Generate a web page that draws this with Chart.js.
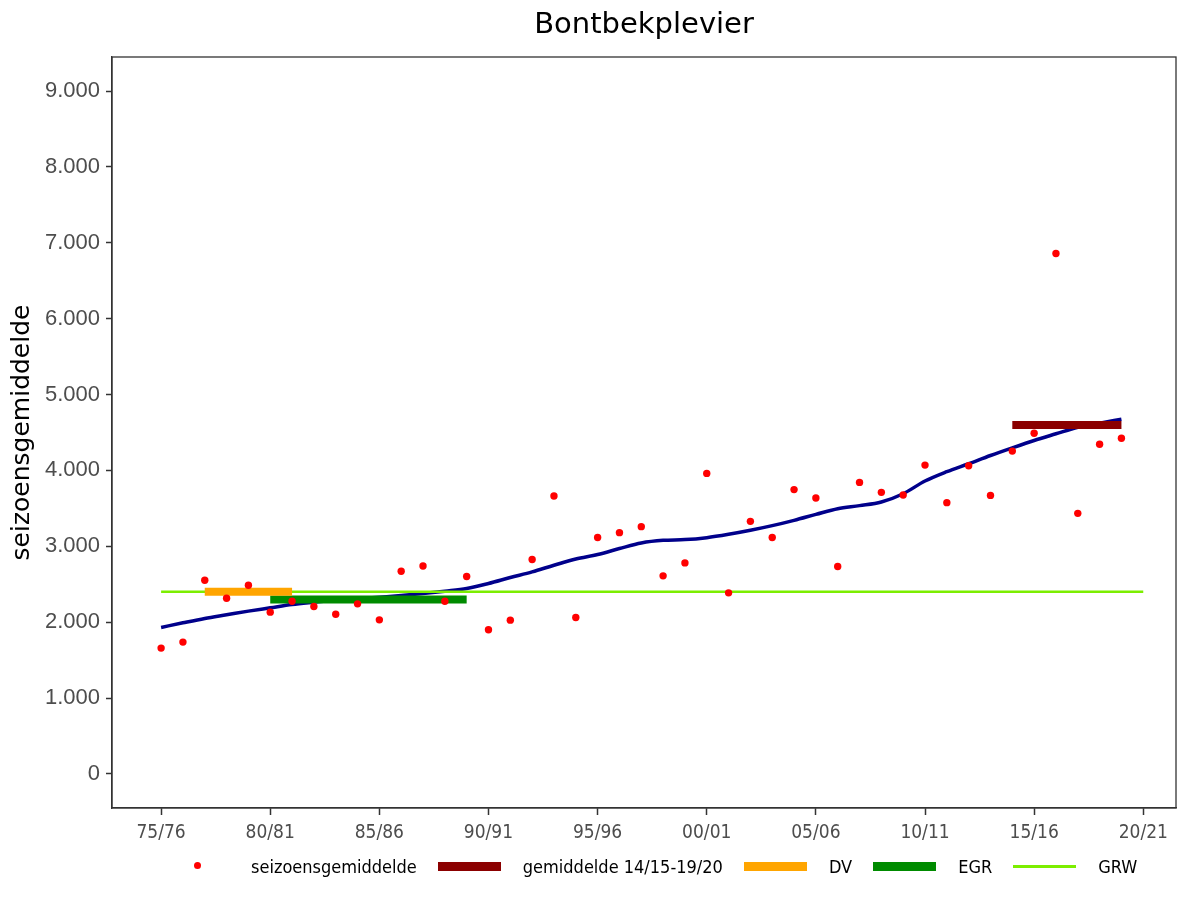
<!DOCTYPE html>
<html>
<head>
<meta charset="utf-8">
<title>Bontbekplevier</title>
<script src="https://cdn.jsdelivr.net/npm/chart.js@4.4.1/dist/chart.umd.min.js"></script>
<style>
  html, body { margin: 0; padding: 0; background: #fff; }
  #wrap { position: relative; width: 1188px; height: 906px; }
  #legend {
    position: absolute; left: 166px; top: 854px; height: 24px;
    display: flex; align-items: center;
    font-family: "DejaVu Sans Condensed", "DejaVu Sans", sans-serif;
    font-size: 18px; color: #000;
  }
  .sw { width: 63px; height: 9px; margin-right: 22px; position: relative; }
  .lab { margin-right: 21px; white-space: nowrap; }
</style>
</head>
<body>
<div id="wrap">
  <canvas id="chart" width="1188" height="906"></canvas>
  <div id="legend"></div>
</div>
<script>
const seasons = [
  '75/76', '76/77', '77/78', '78/79', '79/80', '80/81', '81/82', '82/83', '83/84', '84/85',
  '85/86', '86/87', '87/88', '88/89', '89/90', '90/91', '91/92', '92/93', '93/94', '94/95',
  '95/96', '96/97', '97/98', '98/99', '99/00', '00/01', '01/02', '02/03', '03/04', '04/05',
  '05/06', '06/07', '07/08', '08/09', '09/10', '10/11', '11/12', '12/13', '13/14', '14/15',
  '15/16', '16/17', '17/18', '18/19', '19/20', '20/21'
];

// seizoensgemiddelde per season, 75/76 .. 19/20
const seasonMeans = [
  1658, 1737, 2553, 2316, 2487, 2132, 2276, 2207, 2105, 2241,
  2030, 2671, 2741, 2276, 2601, 1899, 2026, 2825, 3663, 2062,
  3115, 3180, 3259, 2610, 2781, 3961, 2386, 3329, 3115, 3747,
  3636, 2733, 3842, 3711, 3676, 4070, 3575, 4062, 3671, 4255,
  4491, 6860, 3434, 4346, 4425
];

// smoothed trend, 75/76 .. 19/20
const trend = [
  1930, 1991, 2049, 2097, 2145, 2189, 2233, 2263, 2290, 2307,
  2329, 2351, 2377, 2408, 2443, 2509, 2588, 2663, 2750, 2833,
  2891, 2970, 3044, 3079, 3088, 3114, 3158, 3211, 3272, 3342,
  3420, 3496, 3536, 3584, 3693, 3860, 3983, 4088, 4197, 4298,
  4395, 4483, 4570, 4623, 4675
];

// reference levels: name, from season, to season, value
const refNames  = ['gemiddelde 14/15-19/20', 'DV', 'EGR', 'GRW'];
const refFrom   = ['14/15', '77/78', '80/81', '75/76'];
const refTo     = ['19/20', '81/82', '89/90', '20/21'];
const refValues = [4600, 2400, 2300, 2400];
const refColors = ['#8b0000', '#ffa500', '#008b00', '#7cee00'];

const xTickSeasons = ['75/76', '80/81', '85/86', '90/91', '95/96', '00/01', '05/06', '10/11', '15/16', '20/21'];
const yTicks = [0, 1000, 2000, 3000, 4000, 5000, 6000, 7000, 8000, 9000];

const idx = s => seasons.indexOf(s);
const fmt = v => String(v).replace(/\B(?=(\d{3})+(?!\d))/g, '.');

const refDatasets = refNames.map((name, i) => ({
  type: 'line',
  label: name,
  data: [{ x: idx(refFrom[i]), y: refValues[i] }, { x: idx(refTo[i]), y: refValues[i] }],
  borderColor: refColors[i],
  borderWidth: name === 'GRW' ? 2.5 : 8,
  borderCapStyle: 'butt',
  pointRadius: 0,
  order: name === 'GRW' ? 4 : i + 1
}));

const frame = {
  id: 'frame',
  afterDatasetsDraw(chart) {
    const { ctx, chartArea: a } = chart;
    ctx.save();
    ctx.strokeStyle = '#333';
    ctx.lineWidth = 1.3;
    ctx.strokeRect(a.left, a.top, a.right - a.left, a.bottom - a.top);
    ctx.restore();
  }
};

const chart = new Chart(document.getElementById('chart'), {
  type: 'scatter',
  data: {
    datasets: [
      {
        type: 'scatter',
        label: 'seizoensgemiddelde',
        data: seasonMeans.map((v, i) => ({ x: i, y: v })),
        backgroundColor: '#ff0000',
        borderWidth: 0,
        pointRadius: 3.7,
        order: 0
      },
      ...refDatasets,
      {
        type: 'line',
        label: 'trend',
        data: trend.map((v, i) => ({ x: i, y: v })),
        borderColor: '#00008b',
        borderWidth: 3.5,
        cubicInterpolationMode: 'monotone',
        pointRadius: 0,
        order: 5
      }
    ]
  },
  options: {
    responsive: false,
    animation: false,
    layout: { padding: { top: 0, right: 12, bottom: 0, left: 0 } },
    plugins: {
      legend: { display: false },
      tooltip: { enabled: false },
      title: {
        display: true,
        text: 'Bontbekplevier',
        fullSize: false,
        color: '#000',
        font: { family: '"DejaVu Sans", sans-serif', size: 29, weight: 'normal' },
        padding: { top: 8.5, bottom: 13.7 }
      }
    },
    scales: {
      x: {
        type: 'linear',
        min: -2.25,
        max: 46.5,
        afterBuildTicks: s => { s.ticks = xTickSeasons.map(t => ({ value: idx(t) })); },
        afterFit: s => { s.height = 98; },
        ticks: {
          callback: v => seasons[v],
          autoSkip: false,
          maxRotation: 0,
          padding: 7,
          color: '#4d4d4d',
          font: { family: '"DejaVu Sans Condensed", "DejaVu Sans", sans-serif', size: 19 }
        },
        grid: { drawOnChartArea: false, tickLength: 7, tickColor: '#333', tickWidth: 1.5 },
        border: { color: '#333', width: 1.3 }
      },
      y: {
        min: -450,
        max: 9450,
        afterBuildTicks: s => { s.ticks = yTicks.map(v => ({ value: v })); },
        afterFit: s => { s.width = 112; },
        ticks: {
          callback: v => fmt(v),
          padding: 6,
          color: '#4d4d4d',
          font: { family: '"Liberation Sans", Arial, sans-serif', size: 22 }
        },
        grid: { drawOnChartArea: false, tickLength: 6, tickColor: '#333', tickWidth: 1.5 },
        border: { color: '#333', width: 1.3 },
        title: {
          display: true,
          text: 'seizoensgemiddelde',
          color: '#000',
          padding: { top: 7, bottom: 0 },
          font: { family: '"DejaVu Sans", sans-serif', size: 25 }
        }
      }
    }
  },
  plugins: [frame]
});

// legend under the plot, built from the same datasets
const legend = document.getElementById('legend');
chart.data.datasets.filter(d => d.label !== 'trend').forEach(d => {
  const sw = document.createElement('div');
  sw.className = 'sw';
  if (d.type === 'scatter') {
    const dot = document.createElement('div');
    dot.style.cssText = 'position:absolute;left:28px;top:0.5px;width:7px;height:7px;border-radius:50%;background:' + d.backgroundColor;
    sw.appendChild(dot);
  } else if (d.borderWidth < 5) {
    sw.style.height = '3px';
    sw.style.background = d.borderColor;
  } else {
    sw.style.background = d.borderColor;
  }
  const lab = document.createElement('span');
  lab.className = 'lab';
  lab.textContent = d.label;
  legend.appendChild(sw);
  legend.appendChild(lab);
});
</script>
</body>
</html>
